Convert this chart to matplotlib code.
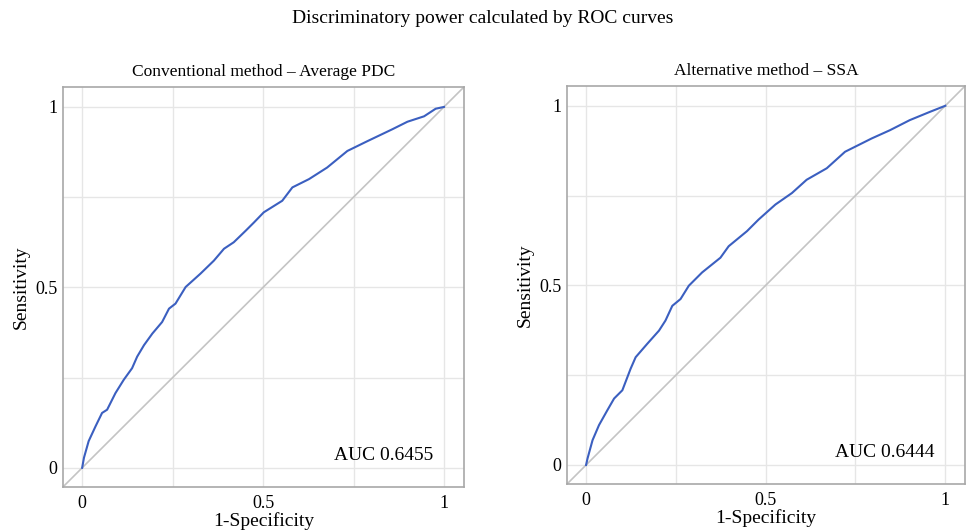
import matplotlib
matplotlib.use("Agg")
import matplotlib.pyplot as plt

# ROC curve (1-specificity, sensitivity)
conv_fpr = [0.000, 0.005, 0.018, 0.037, 0.055, 0.069, 0.092, 0.115, 0.138, 0.152,
            0.171, 0.194, 0.221, 0.240, 0.258, 0.286, 0.327, 0.364, 0.392, 0.419,
            0.452, 0.475, 0.502, 0.553, 0.581, 0.627, 0.677, 0.733, 0.788, 0.857,
            0.899, 0.945, 0.977, 1.000]
conv_tpr = [0.000, 0.028, 0.074, 0.115, 0.152, 0.161, 0.207, 0.244, 0.276, 0.308,
            0.340, 0.372, 0.404, 0.441, 0.455, 0.501, 0.538, 0.574, 0.607, 0.625,
            0.657, 0.680, 0.708, 0.740, 0.777, 0.800, 0.832, 0.878, 0.905, 0.938,
            0.959, 0.974, 0.995, 1.000]

ssa_fpr = [0.000, 0.004, 0.018, 0.036, 0.059, 0.078, 0.101, 0.124, 0.138, 0.170,
           0.203, 0.221, 0.240, 0.263, 0.286, 0.323, 0.374, 0.397, 0.448, 0.480,
           0.527, 0.573, 0.614, 0.670, 0.721, 0.795, 0.846, 0.901, 0.957, 1.000]
ssa_tpr = [0.000, 0.018, 0.069, 0.111, 0.152, 0.185, 0.208, 0.268, 0.300, 0.337,
           0.374, 0.402, 0.443, 0.462, 0.499, 0.536, 0.577, 0.609, 0.651, 0.683,
           0.725, 0.757, 0.794, 0.826, 0.872, 0.909, 0.932, 0.960, 0.983, 1.000]

titles = ["Conventional method \u2013 Average PDC", "Alternative method \u2013 SSA"]
auc_labels = ["AUC 0.6455", "AUC 0.6444"]

CURVE = "#3b5fc0"
DIAG = "#c4c4c4"
GRID = "#e6e6e6"
FRAME = "#a8a8a8"

plt.rcParams["font.family"] = ["Liberation Serif", "DejaVu Serif"]

fig = plt.figure(figsize=(9.66, 5.31), dpi=100)
fig.text(0.5, 0.965, "Discriminatory power calculated by ROC curves",
         ha="center", va="center", fontsize=14)

rects = [[0.0652, 0.083, 0.415, 0.753], [0.587, 0.0885, 0.412, 0.7495]]
curves = [(conv_fpr, conv_tpr), (ssa_fpr, ssa_tpr)]

for rect, (fx, ty), title, auc in zip(rects, curves, titles, auc_labels):
    ax = fig.add_axes(rect)
    lo, hi = -0.053, 1.055
    ax.set_xlim(lo, hi)
    ax.set_ylim(lo, hi)
    ax.plot([lo, hi], [lo, hi], color=DIAG, lw=1.2, zorder=2)
    ax.plot(fx, ty, color=CURVE, lw=1.5, zorder=3)

    ax.set_xticks([0, 0.5, 1])
    ax.set_xticklabels(["0", "0.5", "1"])
    ax.set_yticks([0, 0.5, 1])
    ax.set_yticklabels(["0", "0.5", "1"])
    ax.set_xticks([0.25, 0.75], minor=True)
    ax.set_yticks([0.25, 0.75], minor=True)
    ax.grid(True, which="both", color=GRID, lw=1.0, zorder=0)
    ax.set_axisbelow(True)
    ax.tick_params(which="both", length=0, labelsize=13)
    ax.tick_params(axis="x", pad=6)
    ax.tick_params(axis="y", pad=4)

    for s in ax.spines.values():
        s.set_color(FRAME)
        s.set_linewidth(1.2)

    ax.set_title(title, fontsize=12.5, pad=8)
    ax.set_xlabel("1-Specificity", fontsize=14, labelpad=0)
    ax.set_ylabel("Sensitivity", fontsize=14, labelpad=4)
    ax.text(0.97, 0.035, auc, ha="right", va="center", fontsize=14)

fig.savefig("out.png", dpi=100, facecolor="white")
